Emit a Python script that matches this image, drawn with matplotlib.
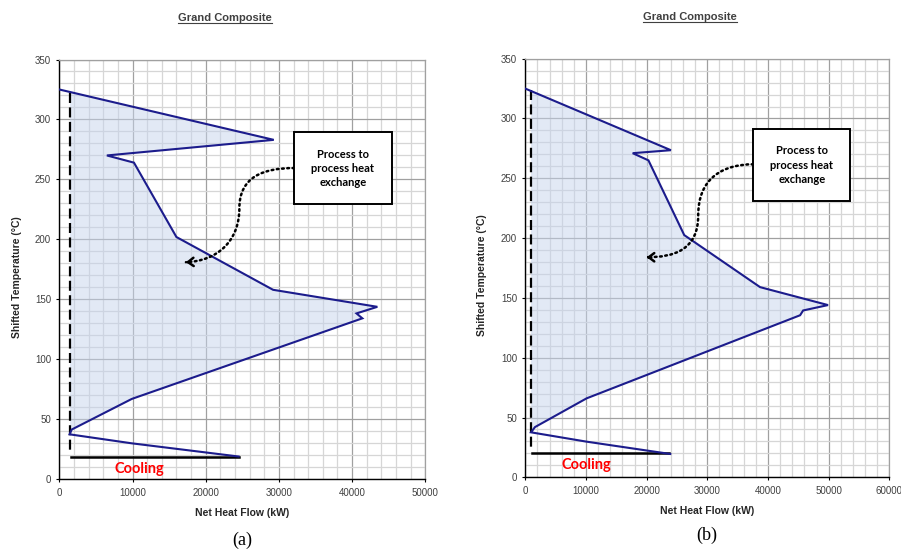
import numpy as np
import matplotlib
matplotlib.use("Agg")
import matplotlib.pyplot as plt
from matplotlib.ticker import MultipleLocator
from matplotlib.patches import Polygon, Rectangle, FancyArrowPatch
from matplotlib.path import Path
from matplotlib.lines import Line2D

# Grand composite curves (heat in kW, shifted temp in degC)
a_heat = [0, 29300, 6500, 10200, 16000, 29200, 43450, 40600, 41400, 9900, 1700, 1400, 9900, 24500]
a_temp = [325, 283, 270, 264, 202, 158, 143.8, 138.3, 134.2, 67, 41.5, 37.5, 30, 19]
b_heat = [0, 24000, 17700, 20300, 26200, 38700, 49900, 45800, 45300, 10100, 1600, 940, 10100, 23900]
b_temp = [325, 273.5, 271, 265, 202.5, 159, 144, 139.5, 135.5, 66, 42, 37.6, 29.8, 19.5]
pinch_index = 11  # last point of the pocket that gets shaded

# utility lines: dashed minimum-utility line and cooling bar
a_dash_x, a_dash_y = 1460, (322, 22)
b_dash_x, b_dash_y = 940, (324, 24)
a_cool_x, a_cool_y = (1600, 24600), 18.3
b_cool_x, b_cool_y = (1050, 23700), 20.5

a_xmax, b_xmax = 50000, 60000
temp_max = 350

box_text = "Process to\nprocess heat\nexchange"
title_text = "Grand Composite"
xlabel_text = "Net Heat Flow (kW)"
ylabel_text = "Shifted Temperature (°C)"

navy = "#1c1c8c"
grey_text = "#404040"


def draw_panel(ax, heat, temp, xmax, dash_x, dash_y, cool_x, cool_y,
               box, arrow_pts, cool_label_xy):
    ax.set_xlim(0, xmax)
    ax.set_ylim(0, temp_max)
    ax.xaxis.set_major_locator(MultipleLocator(10000))
    ax.xaxis.set_minor_locator(MultipleLocator(2000))
    ax.yaxis.set_major_locator(MultipleLocator(50))
    ax.yaxis.set_minor_locator(MultipleLocator(10))
    ax.set_axisbelow(True)
    ax.grid(which="minor", color="#d6d6d6", lw=0.9)
    ax.grid(which="major", color="#a0a0a0", lw=0.9)
    ax.tick_params(which="minor", length=0)
    ax.tick_params(which="major", length=2.5, width=0.8, direction="out",
                   labelsize=7, labelcolor=grey_text, pad=3.5)
    for s in ("top", "right"):
        ax.spines[s].set_color("#a0a0a0")
        ax.spines[s].set_linewidth(0.9)
    for s in ("left", "bottom"):
        ax.spines[s].set_color("black")
        ax.spines[s].set_linewidth(1.0)
    for lab in ax.get_xticklabels() + ax.get_yticklabels():
        lab.set_family("Liberation Sans")

    # shaded pocket between the dashed line and the curve
    y_top = temp[0] + (temp[1] - temp[0]) * dash_x / heat[1]
    verts = [(dash_x, y_top)] + list(zip(heat[1:pinch_index + 1], temp[1:pinch_index + 1]))
    verts.append((dash_x, temp[pinch_index]))
    ax.add_patch(Polygon(verts, closed=True, fc="#c6d4ec", ec="none", alpha=0.5, zorder=1))

    ax.plot(heat, temp, color=navy, lw=1.5, zorder=3, solid_joinstyle="miter")
    ax.plot([dash_x, dash_x], dash_y, color="black", lw=1.6, ls=(0, (4.5, 2)), zorder=2)
    ax.plot(cool_x, [cool_y, cool_y], color="black", lw=1.8, zorder=2)
    ax.text(cool_label_xy[0], cool_label_xy[1], "Cooling", color="#ff0000",
            fontsize=10.5, fontweight="bold", family="Lato", ha="center", va="center")

    # annotation box
    x0, x1, y0, y1 = box
    ax.add_patch(Rectangle((x0, y0), x1 - x0, y1 - y0, fc="white", ec="black",
                           lw=1.4, zorder=5))
    ax.text((x0 + x1) / 2, (y0 + y1) / 2, box_text, ha="center", va="center",
            fontsize=8, fontweight="bold", family="Lato", linespacing=1.35, zorder=6)

    # dotted S-shaped arrow
    codes = [Path.MOVETO] + [Path.CURVE4] * 6
    curve = FancyArrowPatch(path=Path(arrow_pts, codes), arrowstyle="-",
                            color="black", lw=1.8, ls=(0, (0.7, 1.4)), zorder=4)
    ax.add_patch(curve)
    end = arrow_pts[-1]
    prev = arrow_pts[-2]
    head = FancyArrowPatch(prev, end, arrowstyle="->,head_length=4,head_width=3",
                           color="black", lw=1.8, zorder=4, shrinkA=0, shrinkB=0,
                           mutation_scale=1)
    head.set_positions((end[0] + (prev[0] - end[0]) * 0.08, end[1] + (prev[1] - end[1]) * 0.08), end)
    ax.add_patch(head)


fig = plt.figure(figsize=(9.01, 5.51), dpi=100)
W, H = 901, 551
ax_a = fig.add_axes([59.3 / W, 1 - 479.3 / H, 366 / W, 419.8 / H])
ax_b = fig.add_axes([525.3 / W, 1 - 477.3 / H, 364 / W, 418.6 / H])

a_arrow = [(32100, 259.5), (27800, 259.5), (24600, 252), (24600, 226),
           (24600, 198), (21500, 182), (17300, 181)]
b_arrow = [(37600, 261.7), (32500, 261.7), (28500, 250), (28500, 219),
           (28500, 190), (24500, 184), (20000, 184)]

draw_panel(ax_a, a_heat, a_temp, a_xmax, a_dash_x, a_dash_y, a_cool_x, a_cool_y,
           (32100, 45400, 229.4, 289.4), a_arrow, (10900, 8.5))
draw_panel(ax_b, b_heat, b_temp, b_xmax, b_dash_x, b_dash_y, b_cool_x, b_cool_y,
           (37600, 53600, 231, 291.2), b_arrow, (10100, 10.3))

for ax, ycoord in ((ax_a, -0.081), (ax_b, -0.080)):
    ax.set_xlabel(xlabel_text, fontsize=7.5, fontweight="bold", color="#262626",
                  family="Liberation Sans", va="center")
    ax.xaxis.set_label_coords(0.5, ycoord)
ax_a.set_ylabel(ylabel_text, fontsize=7.5, fontweight="bold", color="#262626",
                family="Liberation Sans", va="center")
ax_a.yaxis.set_label_coords(-0.116, 0.482)
ax_b.set_ylabel(ylabel_text, fontsize=7.5, fontweight="bold", color="#262626",
                family="Liberation Sans", va="center")
ax_b.yaxis.set_label_coords(-0.119, 0.482)

titles = []
for cx, cy in ((225, 18), (690, 17.3)):
    titles.append(fig.text(cx / W, 1 - cy / H, title_text, ha="center", va="center",
                           fontsize=8, fontweight="bold", color=grey_text,
                           family="Liberation Sans"))

fig.text(242.5 / W, 1 - 540 / H, "(a)", ha="center", va="center", fontsize=13,
         family="Liberation Serif")
fig.text(706.7 / W, 1 - 535 / H, "(b)", ha="center", va="center", fontsize=13,
         family="Liberation Serif")

# underline the titles
fig.canvas.draw()
for t in titles:
    bb = t.get_window_extent()
    yline = (bb.y0 + 0.5) / H
    fig.add_artist(Line2D([bb.x0 / W, bb.x1 / W], [yline, yline], color=grey_text, lw=0.8))

fig.savefig("out.png", dpi=100)
